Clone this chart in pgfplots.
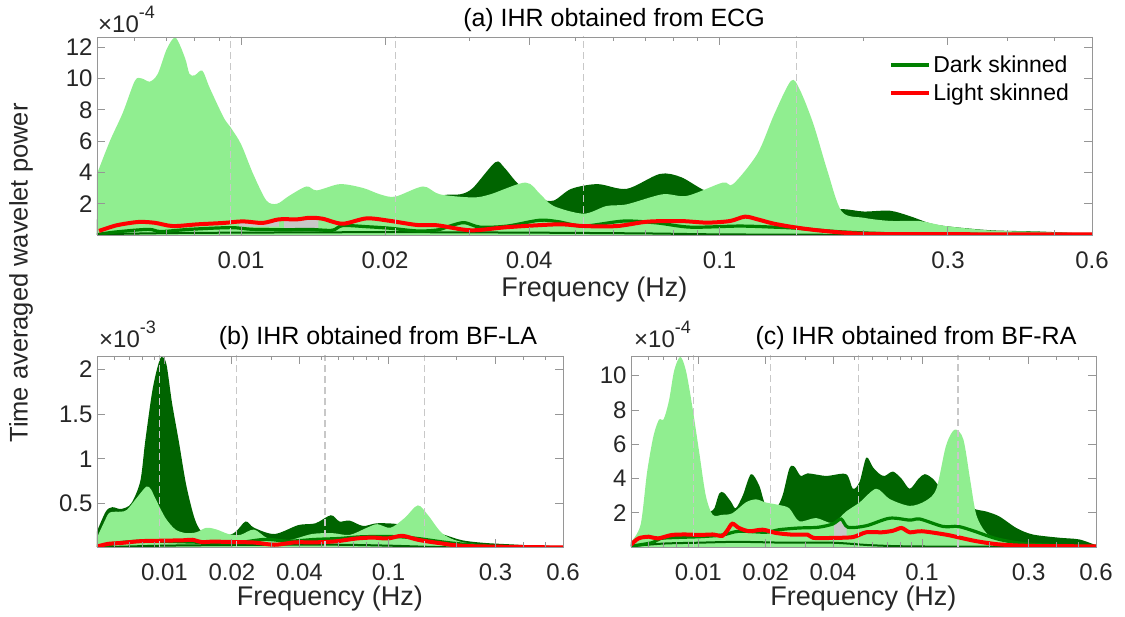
\documentclass[border=0pt]{standalone}
\usepackage{fontspec}
\setmainfont{Liberation Sans}
\usepackage{pgfplots}
\pgfplotsset{compat=1.18}

\definecolor{bandlight}{RGB}{144,238,144}
\definecolor{banddark}{RGB}{0,100,0}
\definecolor{meandark}{RGB}{0,128,0}
\definecolor{meanlight}{RGB}{255,0,0}
\definecolor{axgray}{RGB}{150,150,150}
\definecolor{txtgray}{RGB}{38,38,38}
\definecolor{patchgray}{RGB}{200,200,200}
\definecolor{dashgray}{RGB}{200,200,200}

\newcommand{\tickfont}{\fontsize{24}{24}\selectfont}
\newcommand{\labfont}{\fontsize{27}{27}\selectfont}
\newcommand{\titfont}{\fontsize{25}{25}\selectfont}
\newcommand{\scalelabel}[1]{×10\raisebox{0.62em}{\fontsize{18}{18}\selectfont #1}}

\tikzset{
  dband/.style={fill=banddark, draw=none, smooth, tension=0.5},
  lband/.style={fill=bandlight, draw=none, smooth, tension=0.5},
  lowline/.style={draw=banddark, line width=2pt, smooth},
  dmean/.style={draw=meandark, line width=3.2pt, smooth, tension=0.5},
  lmean/.style={draw=meanlight, line width=4pt, smooth, tension=0.5},
  gpatch/.style={fill=patchgray, draw=none},
  bandsep/.style={draw=dashgray, line width=1.3pt, dash pattern=on 7pt off 4pt},
}

\pgfplotsset{
  every axis/.append style={
    scale only axis,
    axis on top,
    axis line style={axgray, line width=0.9pt},
    every tick/.style={axgray, line width=0.9pt},
    tick align=inside, major tick length=8pt, minor tick length=4.5pt,
    ticklabel style={font=\tickfont, text=txtgray},
    xticklabel style={yshift=-13pt},
    yticklabel style={xshift=-1pt},
    xlabel style={font=\labfont, text=txtgray},
  },
}

\begin{document}
\begin{tikzpicture}
\path[use as bounding box] (0pt,0pt) rectangle (1125pt,617pt);

% ---------------- (a) ECG ----------------
\begin{axis}[at={(97pt,382pt)}, anchor=south west,
  width=995pt, height=198pt,
  xmode=log, xmin=0.005, xmax=0.6, ymin=0, ymax=12.65,
  xtick={0.01,0.02,0.04,0.1,0.3,0.6},
  xticklabels={0.01,0.02,0.04,0.1,0.3,0.6},
  minor xtick={0.006,0.007,0.008,0.009,0.03,0.05,0.06,0.07,0.08,0.09,0.2,0.4,0.5},
  ytick={2,4,6,8,10,12}, yticklabels={2,4,6,8,10,12},
  xlabel={Frequency (Hz)},
  xlabel style={at={(rel axis cs:0.5,0)}, anchor=center, yshift=-55pt},
  legend style={at={(0.982,0.925)}, anchor=north east, draw=none, fill=none,
    font=\fontsize{23}{23}\selectfont, row sep=6pt,
    nodes={inner xsep=2pt}},
  legend cell align=left,
  legend image code/.code={\draw[line width=4pt] (0pt,0pt) -- (38pt,0pt);},
]
\addplot[dband, forget plot] coordinates {(0.005,1.0) (0.012,1.2) (0.02,1.5) (0.026,2.5) (0.0287,2.6) (0.0305,3.0) (0.034,4.65) (0.0355,4.3) (0.038,3.25) (0.042,2.35) (0.045,2.2) (0.049,2.95) (0.0556,3.25) (0.064,2.95) (0.075,3.9) (0.083,3.7) (0.093,2.85) (0.11,2.0) (0.15,1.5) (0.18,1.65) (0.2,1.5) (0.227,1.55) (0.25,1.2) (0.275,0.75) (0.3,0.55) (0.37,0.3) (0.47,0.22) (0.6,0.06)} \closedcycle;
\addplot[lband, forget plot] coordinates {(0.005,3.9) (0.00532,6.0) (0.00566,7.8) (0.006,9.85) (0.0062,10.0) (0.00645,9.8) (0.0067,10.3) (0.007,11.9) (0.0073,12.6) (0.00764,11.3) (0.0078,10.3) (0.008,10.2) (0.0083,10.5) (0.0086,9.4) (0.0092,7.5) (0.0095,6.9) (0.01,5.8) (0.0106,3.9) (0.0113,2.2) (0.0119,2.0) (0.0126,2.5) (0.0137,3.1) (0.0144,2.85) (0.0161,3.25) (0.018,3.0) (0.0195,2.6) (0.021,2.45) (0.024,3.1) (0.026,2.6) (0.0305,2.4) (0.0332,2.6) (0.0393,3.35) (0.0422,2.6) (0.045,1.85) (0.052,1.36) (0.058,1.85) (0.064,1.96) (0.076,2.6) (0.0855,2.5) (0.1015,3.35) (0.1067,3.25) (0.12,5.2) (0.13,7.7) (0.141,9.85) (0.147,9.3) (0.157,7.1) (0.168,4.1) (0.18,1.5) (0.2,1.1) (0.227,0.9) (0.26,0.9) (0.28,0.72) (0.3,0.55) (0.37,0.28) (0.47,0.2) (0.6,0.05)} \closedcycle;
\addplot[gpatch, forget plot] coordinates {(0.0099,0.53) (0.0099,0.86) (0.0111,0.77) (0.012,0.95) (0.012,0.53)} -- cycle;
\addplot[gpatch, forget plot] coordinates {(0.0123,0.43) (0.0123,0.98) (0.0139,1.08) (0.0145,1.02) (0.0145,0.43)} -- cycle;
\addplot[lowline, forget plot] coordinates {(0.005,0.05) (0.007,0.12) (0.01,0.15) (0.02,0.18) (0.04,0.15) (0.07,0.1) (0.1,0.04) (0.2,0.01) (0.6,0.0)};
\addplot[dmean] coordinates {(0.00505,0.05) (0.0055,0.2) (0.0064,0.36) (0.0068,0.22) (0.0078,0.36) (0.0095,0.47) (0.0106,0.36) (0.0126,0.34) (0.0139,0.36) (0.0155,0.3) (0.0163,0.6) (0.0183,0.53) (0.0205,0.43) (0.0233,0.26) (0.0257,0.32) (0.0275,0.6) (0.0293,0.79) (0.0316,0.5) (0.036,0.57) (0.042,0.94) (0.046,0.85) (0.052,0.57) (0.063,0.89) (0.074,0.77) (0.087,0.5) (0.11,0.57) (0.13,0.5) (0.145,0.43) (0.18,0.2) (0.25,0.06) (0.6,0.03)};
\addlegendentry{Dark skinned}
\addplot[lmean] coordinates {(0.00505,0.26) (0.0055,0.62) (0.0061,0.83) (0.0066,0.78) (0.0072,0.57) (0.0081,0.68) (0.0092,0.77) (0.0101,0.87) (0.0111,0.77) (0.012,1.0) (0.0131,1.0) (0.0139,1.1) (0.0148,1.04) (0.0163,0.72) (0.0183,1.06) (0.0205,0.9) (0.0233,0.64) (0.0257,0.62) (0.0302,0.3) (0.036,0.5) (0.046,0.68) (0.052,0.57) (0.061,0.57) (0.0707,0.85) (0.083,0.89) (0.094,0.79) (0.105,0.89) (0.113,1.17) (0.12,1.0) (0.13,0.72) (0.145,0.47) (0.165,0.26) (0.2,0.08) (0.3,0.05) (0.6,0.04)};
\addlegendentry{Light skinned}
\addplot[bandsep, forget plot] coordinates {(0.0095,0) (0.0095,13)};
\addplot[bandsep, forget plot] coordinates {(0.021,0) (0.021,13)};
\addplot[bandsep, forget plot] coordinates {(0.052,0) (0.052,13)};
\addplot[bandsep, forget plot] coordinates {(0.145,0) (0.145,13)};
\end{axis}

% ---------------- (b) BF-LA ----------------
\begin{axis}[at={(97pt,70pt)}, anchor=south west,
  width=466pt, height=191pt,
  xmode=log, xmin=0.005, xmax=0.6, ymin=0.015, ymax=2.15,
  xtick={0.01,0.02,0.04,0.1,0.3,0.6},
  xticklabels={0.01,0.02,0.04,0.1,0.3,0.6},
  minor xtick={0.006,0.007,0.008,0.009,0.03,0.05,0.06,0.07,0.08,0.09,0.2,0.4,0.5},
  ytick={0.5,1,1.5,2}, yticklabels={0.5,1,1.5,2},
  xlabel={Frequency (Hz)},
  xlabel style={at={(rel axis cs:0.5,0)}, anchor=center, yshift=-52pt},
]
\addplot[dband, forget plot] coordinates {(0.005,0.19) (0.00547,0.41) (0.00585,0.46) (0.0064,0.44) (0.0071,0.5) (0.0078,0.75) (0.0082,1.19) (0.0088,1.74) (0.0093,2.02) (0.0097,2.14) (0.0102,2.06) (0.0108,1.63) (0.0116,1.19) (0.0125,0.71) (0.0136,0.34) (0.0146,0.19) (0.0165,0.11) (0.0204,0.17) (0.023,0.3) (0.0251,0.23) (0.031,0.16) (0.0396,0.26) (0.0472,0.28) (0.0553,0.37) (0.0604,0.3) (0.067,0.31) (0.077,0.25) (0.0887,0.28) (0.11,0.27) (0.126,0.21) (0.15,0.2) (0.178,0.15) (0.213,0.09) (0.27,0.06) (0.38,0.04) (0.6,0.01)} \closedcycle;
\addplot[lband, forget plot] coordinates {(0.005,0.12) (0.0054,0.3) (0.0057,0.4) (0.0064,0.41) (0.0068,0.43) (0.0075,0.56) (0.0083,0.69) (0.0087,0.66) (0.0091,0.56) (0.0101,0.34) (0.0112,0.21) (0.0125,0.17) (0.0139,0.18) (0.0154,0.23) (0.0171,0.21) (0.0193,0.16) (0.0218,0.15) (0.0251,0.21) (0.029,0.11) (0.0357,0.09) (0.0455,0.16) (0.056,0.17) (0.067,0.15) (0.08,0.23) (0.089,0.27) (0.102,0.23) (0.118,0.34) (0.135,0.48) (0.15,0.37) (0.173,0.17) (0.205,0.08) (0.27,0.04) (0.6,0.01)} \closedcycle;
\addplot[lowline, forget plot] coordinates {(0.005,0.01) (0.01,0.03) (0.03,0.04) (0.06,0.04) (0.1,0.03) (0.2,0.01) (0.6,0.0)};
\addplot[dmean, forget plot] coordinates {(0.005,0.0) (0.0062,0.06) (0.0078,0.08) (0.0095,0.08) (0.0133,0.07) (0.0204,0.06) (0.028,0.1) (0.0357,0.08) (0.0472,0.1) (0.06,0.11) (0.077,0.13) (0.11,0.13) (0.135,0.11) (0.19,0.06) (0.3,0.02) (0.6,0.01)};
\addplot[lmean, forget plot] coordinates {(0.005,0.02) (0.0056,0.05) (0.0064,0.06) (0.0078,0.08) (0.0096,0.085) (0.0121,0.09) (0.0133,0.096) (0.0147,0.07) (0.0165,0.075) (0.0204,0.07) (0.0251,0.065) (0.031,0.04) (0.0383,0.067) (0.047,0.067) (0.058,0.078) (0.072,0.11) (0.085,0.12) (0.099,0.11) (0.115,0.14) (0.135,0.096) (0.167,0.06) (0.228,0.025) (0.6,0.01)};
\addplot[bandsep, forget plot] coordinates {(0.0095,0) (0.0095,3)};
\addplot[bandsep, forget plot] coordinates {(0.021,0) (0.021,3)};
\addplot[bandsep, forget plot] coordinates {(0.052,0) (0.052,3)};
\addplot[bandsep, forget plot] coordinates {(0.145,0) (0.145,3)};
\end{axis}

% ---------------- (c) BF-RA ----------------
\begin{axis}[at={(631pt,70pt)}, anchor=south west,
  width=465pt, height=191pt,
  xmode=log, xmin=0.005, xmax=0.6, ymin=0, ymax=11.15,
  xtick={0.01,0.02,0.04,0.1,0.3,0.6},
  xticklabels={0.01,0.02,0.04,0.1,0.3,0.6},
  minor xtick={0.006,0.007,0.008,0.009,0.03,0.05,0.06,0.07,0.08,0.09,0.2,0.4,0.5},
  ytick={2,4,6,8,10}, yticklabels={2,4,6,8,10},
  xlabel={Frequency (Hz)},
  xlabel style={at={(rel axis cs:0.5,0)}, anchor=center, yshift=-52pt},
]
\addplot[dband, forget plot] coordinates {(0.005,0.2) (0.0095,1.0) (0.0108,2.0) (0.0113,2.07) (0.0118,2.26) (0.0124,3.12) (0.013,3.17) (0.014,2.64) (0.0147,2.26) (0.0158,3.0) (0.0172,4.25) (0.0187,3.6) (0.02,2.45) (0.0222,2.26) (0.0238,3.0) (0.0255,4.56) (0.0268,4.71) (0.0287,4.15) (0.0308,4.3) (0.0373,4.15) (0.0458,4.25) (0.0491,3.4) (0.0526,3.8) (0.0564,5.22) (0.0604,4.65) (0.0648,4.25) (0.0682,4.15) (0.0742,4.4) (0.0811,3.98) (0.0882,3.4) (0.0964,3.98) (0.103,4.25) (0.112,3.98) (0.124,3.3) (0.14,3.0) (0.169,2.26) (0.194,2.07) (0.222,1.78) (0.265,1.1) (0.313,0.73) (0.412,0.54) (0.506,0.44) (0.6,0.1)} \closedcycle;
\addplot[lband, forget plot] coordinates {(0.005,0.3) (0.00552,1.3) (0.0059,4.36) (0.0063,6.47) (0.00667,7.43) (0.007,7.46) (0.0074,8.57) (0.0078,10.3) (0.0083,11.1) (0.0088,10.3) (0.0094,8.2) (0.0101,5.5) (0.0108,3.0) (0.0116,1.88) (0.0128,1.88) (0.0142,1.97) (0.0163,2.6) (0.0181,2.78) (0.02,2.6) (0.023,2.45) (0.0255,2.26) (0.0283,1.5) (0.0336,1.69) (0.0399,1.4) (0.0458,2.07) (0.0526,2.6) (0.0624,3.4) (0.0717,2.8) (0.0882,2.4) (0.104,2.7) (0.116,3.4) (0.128,5.9) (0.14,6.85) (0.153,6.3) (0.164,3.98) (0.175,1.88) (0.194,0.82) (0.222,0.44) (0.312,0.15) (0.6,0.05)} \closedcycle;
\addplot[gpatch, forget plot] coordinates {(0.0405,0.55) (0.0405,1.38) (0.0435,1.63) (0.046,1.2) (0.046,0.57)} -- cycle;
\addplot[lowline, forget plot] coordinates {(0.005,0.05) (0.007,0.2) (0.01,0.25) (0.015,0.3) (0.025,0.25) (0.04,0.25) (0.06,0.1) (0.1,0.03) (0.6,0.0)};
\addplot[dmean, forget plot] coordinates {(0.005,0.05) (0.0062,0.25) (0.0068,0.5) (0.0082,0.56) (0.0101,0.6) (0.0128,0.7) (0.0152,0.92) (0.02,0.86) (0.023,1.01) (0.0283,1.11) (0.0343,1.15) (0.0399,1.34) (0.0435,1.63) (0.0467,1.15) (0.0564,1.24) (0.0717,1.68) (0.0882,1.57) (0.098,1.63) (0.124,1.2) (0.145,1.2) (0.169,0.95) (0.222,0.44) (0.313,0.15) (0.6,0.05)};
\addplot[lmean, forget plot] coordinates {(0.005,0.13) (0.0054,0.5) (0.006,0.6) (0.0066,0.5) (0.0076,0.7) (0.0088,0.73) (0.0101,0.7) (0.0116,0.73) (0.0128,0.65) (0.0135,0.98) (0.0142,1.36) (0.0152,1.11) (0.0169,0.92) (0.0194,1.01) (0.0222,0.82) (0.0264,0.72) (0.0308,0.72) (0.0327,0.53) (0.0399,0.53) (0.0491,0.58) (0.0564,0.86) (0.0663,0.86) (0.0742,0.95) (0.0811,1.11) (0.0882,0.86) (0.1,0.92) (0.128,0.72) (0.145,0.57) (0.175,0.34) (0.222,0.15) (0.313,0.06) (0.6,0.04)};
\addplot[bandsep, forget plot] coordinates {(0.0095,0) (0.0095,12)};
\addplot[bandsep, forget plot] coordinates {(0.021,0) (0.021,12)};
\addplot[bandsep, forget plot] coordinates {(0.052,0) (0.052,12)};
\addplot[bandsep, forget plot] coordinates {(0.145,0) (0.145,12)};
\end{axis}

% scale factors of the y axes
\node[anchor=base west, font=\tickfont, text=txtgray, inner sep=0pt] at (98pt,584pt) {\scalelabel{-4}};
\node[anchor=base west, font=\tickfont, text=txtgray, inner sep=0pt] at (99pt,269pt) {\scalelabel{-3}};
\node[anchor=base west, font=\tickfont, text=txtgray, inner sep=0pt] at (634pt,269pt) {\scalelabel{-4}};

% titles and shared y label
\node[font=\titfont, text=black] at (614pt,597pt) {(a) IHR obtained from ECG};
\node[font=\titfont, text=black] at (378pt,279pt) {(b) IHR obtained from BF-LA};
\node[font=\titfont, text=black] at (916pt,279pt) {(c) IHR obtained from BF-RA};
\node[font=\fontsize{25.5}{25.5}\selectfont, text=txtgray, rotate=90] at (21pt,344pt) {Time averaged wavelet power};
\end{tikzpicture}
\end{document}
